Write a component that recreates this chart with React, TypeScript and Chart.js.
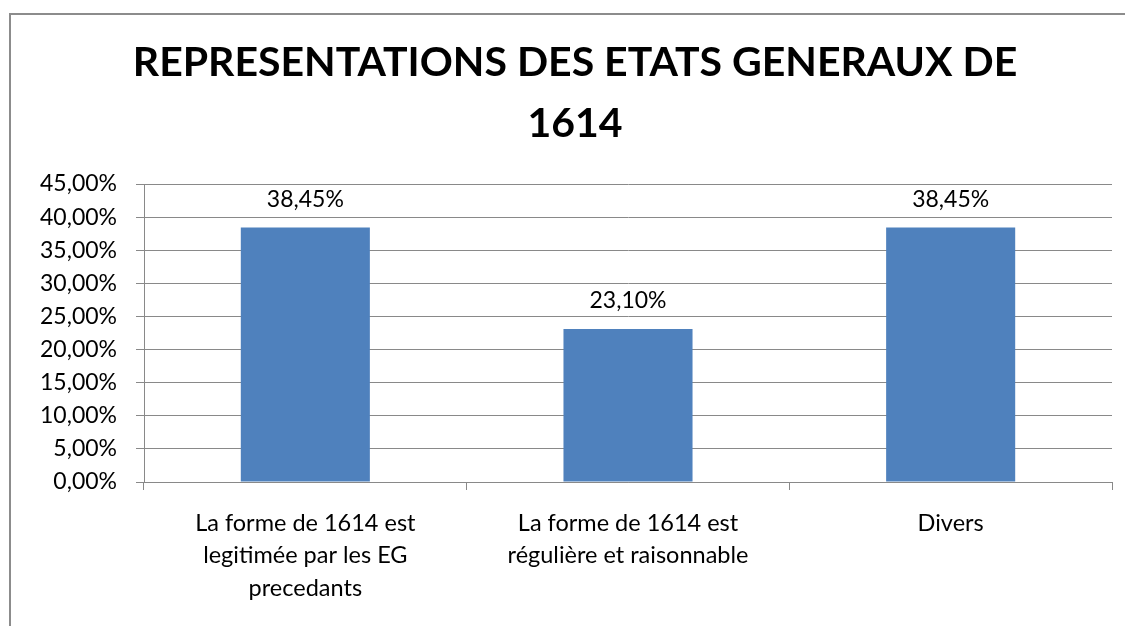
import React, { useEffect, useRef } from "react";
import { Chart, registerables } from "chart.js";

Chart.register(...registerables);

const titleLines = ["REPRESENTATIONS DES ETATS GENERAUX DE", "1614"];
const categories: (string | string[])[] = [
  ["La forme de 1614 est", "legitimée par les EG", "precedants"],
  ["La forme de 1614 est", "régulière et raisonnable"],
  "Divers",
];
const values = [38.45, 23.1, 38.45];
const yMin = 0;
const yMax = 45;
const yStep = 5;

const FONT = "Lato, 'Open Sans', sans-serif";
const fmt = (v: number) => v.toFixed(2).replace(".", ",") + "%";

const dataLabels = {
  id: "dataLabels",
  afterDatasetsDraw(chart: any) {
    const ctx = chart.ctx;
    const meta = chart.getDatasetMeta(0);
    ctx.save();
    ctx.font = `23px ${FONT}`;
    ctx.fillStyle = "#000";
    ctx.textAlign = "center";
    ctx.textBaseline = "middle";
    meta.data.forEach((bar: any, i: number) => {
      ctx.fillText(fmt(values[i]), bar.x, bar.y - 28);
    });
    ctx.restore();
  },
};

export default function App() {
  const ref = useRef<HTMLCanvasElement>(null);
  useEffect(() => {
    if (!ref.current) return;
    const chart = new Chart(ref.current, {
      type: "bar",
      data: {
        labels: categories,
        datasets: [
          {
            data: values,
            backgroundColor: "#4F81BD",
            borderWidth: 0,
            barPercentage: 0.4,
            categoryPercentage: 1,
          },
        ],
      },
      options: {
        responsive: false,
        animation: false,
        layout: { padding: { left: 38, right: 38, top: 0, bottom: 0 } },
        plugins: {
          legend: { display: false },
          tooltip: { enabled: false },
          title: {
            display: true,
            text: titleLines,
            color: "#000",
            font: { family: FONT, size: 41, weight: "bold", lineHeight: 1.5 },
            padding: { top: 32, bottom: 29 },
          },
        },
        scales: {
          x: {
            grid: {
              display: true,
              drawOnChartArea: false,
              drawTicks: true,
              tickLength: 8,
              color: "#898989",
              offset: true,
            },
            border: { display: true, color: "#898989", width: 1 },
            ticks: {
              color: "#000",
              font: { family: FONT, size: 23.5, lineHeight: 1.38 },
              padding: 17,
              maxRotation: 0,
              autoSkip: false,
            },
            afterFit: (s: any) => {
              s.height = 144;
            },
          },
          y: {
            min: yMin,
            max: yMax,
            grid: { color: "#898989", tickLength: 8, drawTicks: true },
            border: { display: true, color: "#898989", width: 1 },
            ticks: {
              stepSize: yStep,
              color: "#000",
              font: { family: FONT, size: 23 },
              padding: 19,
              callback: (v: any) => fmt(Number(v)),
            },
            afterFit: (s: any) => {
              s.width = 106;
            },
          },
        },
      },
      plugins: [dataLabels],
    });
    return () => chart.destroy();
  }, []);
  return (
    <div
      style={{
        position: "fixed",
        left: 0,
        top: 0,
        width: 1125,
        height: 626,
        background: "#fff",
        overflow: "hidden",
      }}
    >
      <div
        style={{
          position: "absolute",
          left: 9,
          top: 13,
          width: 1200,
          height: 700,
          border: "2px solid #8c8c8c",
        }}
      />
      <canvas
        ref={ref}
        width={1150}
        height={626}
        style={{ position: "absolute", left: 0, top: 0 }}
      />
    </div>
  );
}
